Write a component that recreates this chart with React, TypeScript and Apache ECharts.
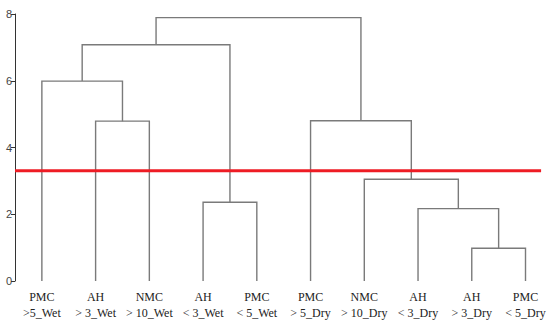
import { useEffect, useRef } from "react";
import * as echarts from "echarts";

const leafNames = ["PMC", "AH", "NMC", "AH", "PMC", "PMC", "NMC", "AH", "AH", "PMC"];
const leafGroups = [">5_Wet", "> 3_Wet", "> 10_Wet", "< 3_Wet", "< 5_Wet", "> 5_Dry", "> 10_Dry", "< 3_Dry", "> 3_Dry", "< 5_Dry"];
// merges: indices < 10 are leaves, >= 10 refer to merge (index - 10)
const mergeLeft = [8, 7, 3, 6, 1, 5, 0, 16, 17];
const mergeRight = [9, 10, 4, 11, 2, 13, 14, 12, 15];
const mergeHeights = [0.98, 2.17, 2.36, 3.05, 4.79, 4.8, 5.99, 7.08, 7.89];
const cutHeight = 3.3;
const cutRange = [-0.5, 9.29];
const yMin = 0;
const yMax = 8;
const yStep = 2;

function buildSegments() {
  const n = leafNames.length;
  const pos: number[] = leafNames.map((_, i) => i);
  const h: number[] = leafNames.map(() => 0);
  const segs: number[][] = [];
  mergeLeft.forEach((l, k) => {
    const r = mergeRight[k];
    const hk = mergeHeights[k];
    segs.push([pos[l], h[l], pos[r], h[r], hk]);
    pos[n + k] = (pos[l] + pos[r]) / 2;
    h[n + k] = hk;
  });
  return segs;
}

export default function App() {
  const ref = useRef<HTMLDivElement>(null);
  useEffect(() => {
    if (!ref.current) return;
    const chart = echarts.init(ref.current, undefined, { renderer: "svg" });
    const segs = buildSegments();
    chart.setOption({
      animation: false,
      grid: { left: 15, right: 3, top: 14, bottom: 46 },
      xAxis: { type: "value", min: -0.5, max: 9.4, show: false },
      yAxis: {
        type: "value",
        min: yMin,
        max: yMax,
        interval: yStep,
        axisLine: { show: true, onZero: false, lineStyle: { color: "#333", width: 1 } },
        axisTick: { show: true, length: 4, lineStyle: { color: "#333" } },
        axisLabel: { fontSize: 11, color: "#444", margin: 3, fontFamily: "Liberation Sans" },
        splitLine: { show: false },
      },
      series: [
        {
          type: "custom",
          data: segs,
          clip: false,
          encode: { x: [0, 2], y: [1, 3, 4] },
          renderItem: (_p: any, api: any) => {
            const p1 = api.coord([api.value(0), api.value(1)]);
            const p2 = api.coord([api.value(0), api.value(4)]);
            const p3 = api.coord([api.value(2), api.value(4)]);
            const p4 = api.coord([api.value(2), api.value(3)]);
            return {
              type: "polyline",
              shape: { points: [p1, p2, p3, p4] },
              style: { stroke: "#7a7a7a", lineWidth: 1.4, fill: "none" },
            };
          },
        },
        {
          type: "custom",
          data: leafNames.map((_, i) => [i, 0]),
          clip: false,
          renderItem: (p: any, api: any) => {
            const c = api.coord([api.value(0), api.value(1)]);
            const i = p.dataIndex;
            return {
              type: "group",
              children: [
                {
                  type: "text",
                  style: {
                    text: leafNames[i],
                    x: c[0],
                    y: c[1] + 16,
                    align: "center",
                    verticalAlign: "middle",
                    fill: "#222",
                    font: "12px 'Liberation Serif'",
                  },
                },
                {
                  type: "text",
                  style: {
                    text: leafGroups[i],
                    x: c[0],
                    y: c[1] + 32,
                    align: "center",
                    verticalAlign: "middle",
                    fill: "#222",
                    font: "12px 'Liberation Serif'",
                  },
                },
              ],
            };
          },
        },
        {
          type: "line",
          data: cutRange.map((x) => [x, cutHeight]),
          symbol: "none",
          lineStyle: { color: "#ee1c24", width: 3 },
          z: 5,
        },
      ],
    });
    return () => chart.dispose();
  }, []);
  return (
    <div
      ref={ref}
      style={{ position: "fixed", left: 0, top: 0, width: 550, height: 327, background: "#fff" }}
    />
  );
}
